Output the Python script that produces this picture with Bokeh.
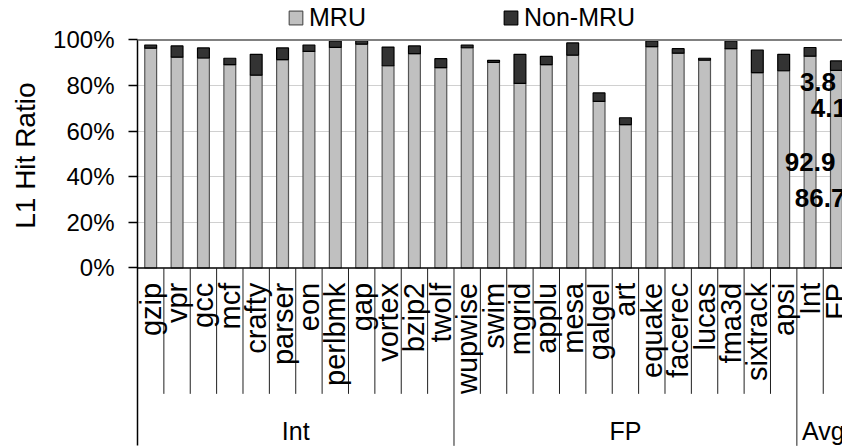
import numpy as np
from math import pi
from bokeh.plotting import figure
from bokeh.models import (ColumnDataSource, Range1d, LinearAxis, FixedTicker, Span,
                          Label, Legend, LegendItem, Title)
from bokeh.core.properties import value
from bokeh.embed import file_html
from bokeh.resources import INLINE

# ---------------- data ----------------
categories = ["gzip", "vpr", "gcc", "mcf", "crafty", "parser", "eon", "perlbmk", "gap",
              "vortex", "bzip2", "twolf",
              "wupwise", "swim", "mgrid", "applu", "mesa", "galgel", "art", "equake",
              "facerec", "lucas", "fma3d", "sixtrack", "apsi",
              "Int", "FP"]
groups = ["Int", "FP", "Avg"]
group_sizes = [12, 13, 2]
mru = [96.4, 92.5, 92.1, 89.2, 84.6, 91.4, 95.0, 96.8, 98.2, 88.7, 94.0, 87.9,
       96.6, 90.2, 81.0, 89.2, 93.4, 73.1, 62.9, 97.1, 94.2, 91.2, 96.2, 85.7, 86.5,
       92.9, 86.7]
non_mru = [1.4, 4.9, 4.4, 2.8, 9.1, 5.1, 2.8, 2.8, 1.5, 8.2, 3.4, 3.9,
           1.2, 0.9, 12.7, 3.6, 5.3, 3.7, 3.0, 2.4, 2.0, 0.8, 3.3, 9.9, 7.2,
           3.8, 4.1]
y_ticks = [0, 20, 40, 60, 80, 100]
y_tick_labels = ["0%", "20%", "40%", "60%", "80%", "100%"]
series_names = ["MRU", "Non-MRU"]
y_title = "L1 Hit Ratio"

FONT = "Liberation Sans"
n = len(categories)
centers = np.arange(n) + 0.5
X_END = 26.73

src = ColumnDataSource(dict(x=centers, mru=mru, non=non_mru, cat=categories))

p = figure(width=842, height=448, output_backend="svg", toolbar_location=None,
           x_range=Range1d(0, X_END), y_range=Range1d(-79.17, 117.32),
           x_axis_location=None, y_axis_location=None,
           min_border_left=137, min_border_right=0, min_border_top=0, min_border_bottom=0)
p.outline_line_color = None
p.background_fill_color = "white"
p.xgrid.visible = False

# y axis (ticks)
yax = LinearAxis(bounds=(-78, 100), ticker=FixedTicker(ticks=y_ticks),
                 major_label_overrides={t: l for t, l in zip(y_ticks, y_tick_labels)})
yax.axis_line_color = "black"
yax.axis_line_width = 1.5
yax.major_tick_out = 9
yax.major_tick_in = 0
yax.major_tick_line_color = "black"
yax.major_tick_line_width = 1.5
yax.minor_tick_out = 0
yax.minor_tick_in = 0
yax.major_label_standoff = 14
yax.major_label_text_font = FONT
yax.major_label_text_font_size = "24px"
yax.major_label_text_color = "black"
p.add_layout(yax, "left")

# y axis title, placed so that it is centred on the 0..100 % part of the axis
ttl = Title(text=y_title, align="right", offset=82, vertical_align="middle",
            text_font=FONT, text_font_size="28px", text_font_style="normal",
            text_color="black", standoff=17)
p.add_layout(ttl, "left")

p.ygrid.ticker = FixedTicker(ticks=[t for t in y_ticks if 0 < t < 100])
p.ygrid.grid_line_color = "#a0a0a0"
p.ygrid.grid_line_dash = "1 1"
p.ygrid.grid_line_width = 1

p.add_layout(Span(location=100, dimension="width", line_color="#808080", line_width=2))

# bars
rs = p.vbar_stack(["mru", "non"], x="x", width=0.45, source=src,
                  fill_color=["#c0c0c0", "#333333"], line_color=["#555555", "#000000"],
                  line_width=1.2)

# x axis line and separators
p.segment(x0=[0], y0=[0], x1=[X_END], y1=[0], line_color="black", line_width=1.5)
bounds_all = np.arange(1, n)
group_bounds = np.cumsum(group_sizes)[:-1]
short_b = [b for b in bounds_all if b not in group_bounds]
p.segment(x0=short_b, y0=[0] * len(short_b), x1=short_b, y1=[-55.2] * len(short_b),
          line_color="#202020", line_width=1)
p.segment(x0=list(group_bounds), y0=[0] * len(group_bounds), x1=list(group_bounds),
          y1=[-78] * len(group_bounds), line_color="#202020", line_width=1)

# category labels
p.text(x="x", y=-6.5, text="cat", source=src, angle=pi / 2, text_align="right",
       text_baseline="middle", text_font=value(FONT), text_font_size="29px",
       text_color="black")

# group labels
starts = np.concatenate([[0], np.cumsum(group_sizes)[:-1]])
gcenters = starts + np.array(group_sizes) / 2
p.text(x=list(gcenters), y=[-71.7] * len(groups), text=groups, text_align="center",
       text_baseline="middle", text_font=value(FONT), text_font_size="25px",
       text_color="black")

# average value labels
ci, cf = centers[-2], centers[-1]
lab_specs = [
    (ci + 0.3, 81.4, f"{non_mru[-2]}", "center"),
    (ci + 0.03, 70.2, f"{non_mru[-1]}", "left"),
    (ci, 46.3, f"{mru[-2]}", "center"),
    (cf - 1.58, 30.5, f"{mru[-1]}", "left"),
]
for x, y, t, al in lab_specs:
    p.add_layout(Label(x=x, y=y, text=t, text_align=al, text_baseline="middle",
                       text_font=FONT, text_font_size="26px", text_font_style="bold",
                       text_color="black"))

# legends
for r, name, lx in zip(rs, series_names, [150, 365]):
    lg = Legend(items=[LegendItem(label=name, renderers=[r])], location=(lx, 416),
                orientation="horizontal", padding=0, margin=0, border_line_alpha=0,
                background_fill_alpha=0, glyph_width=17, glyph_height=17,
                label_standoff=5, label_text_font=FONT, label_text_font_size="25px",
                label_text_color="black")
    p.add_layout(lg)

open("out.html", "w").write(file_html(p, INLINE))
